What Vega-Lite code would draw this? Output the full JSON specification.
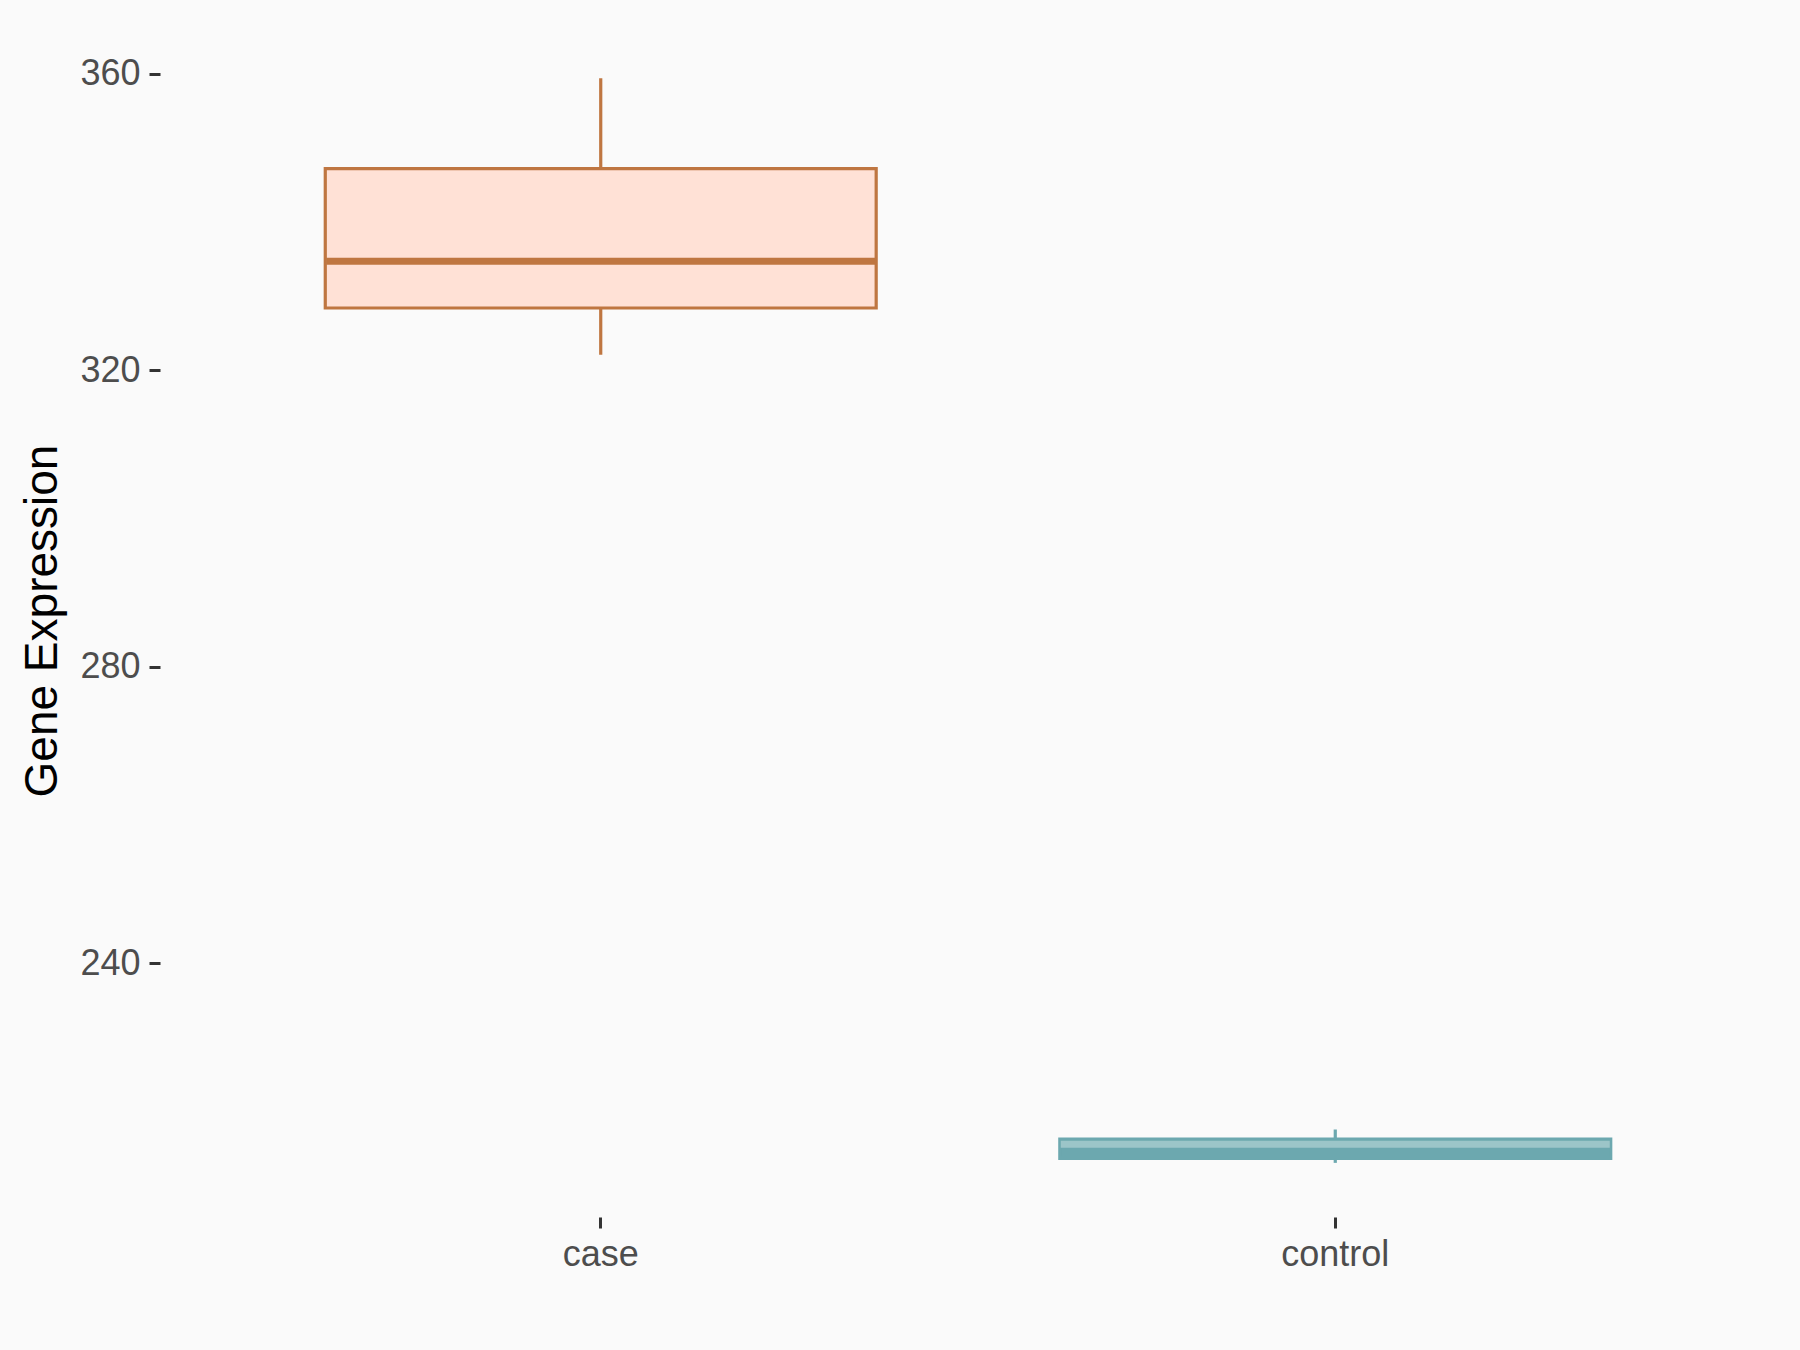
{
  "$schema": "https://vega.github.io/schema/vega-lite/v6.json",
  "width": 1616,
  "height": 1193,
  "autosize": {"type": "none"},
  "padding": {"left": 160, "top": 24, "right": 24, "bottom": 133},
  "background": "#FAFAFA",
  "config": {
    "view": {"stroke": null},
    "font": "Liberation Sans"
  },
  "data": {
    "values": [
      {"group": "case", "lower": 322.1, "q1": 328.4, "median": 334.7, "q3": 347.2, "upper": 359.4},
      {"group": "control", "lower": 213.1, "q1": 213.7, "median": 215.6, "q3": 216.3, "upper": 217.6}
    ]
  },
  "encoding": {
    "x": {
      "field": "group",
      "type": "nominal",
      "scale": {"type": "band", "paddingInner": 0, "paddingOuter": 0.1},
      "axis": {
        "title": null,
        "labelAngle": 0,
        "labelFontSize": 36,
        "labelColor": "#4D4D4D",
        "tickSize": 11,
        "tickWidth": 3,
        "tickColor": "#333333",
        "labelPadding": 9,
        "domain": false,
        "grid": false
      }
    }
  },
  "layer": [
    {
      "mark": {"type": "rule", "strokeWidth": 3.2},
      "encoding": {
        "y": {
          "field": "lower",
          "type": "quantitative",
          "scale": {"domain": [205.8, 366.7], "nice": false, "zero": false},
          "axis": {
            "title": "Gene Expression",
            "titleFontSize": 46,
            "titleFontWeight": "normal",
            "titleColor": "#000000",
            "titlePadding": 13,
            "values": [240, 280, 320, 360],
            "labelFontSize": 36,
            "labelColor": "#4D4D4D",
            "tickSize": 11,
            "tickWidth": 3,
            "tickColor": "#333333",
            "labelPadding": 9,
            "domain": false,
            "grid": false
          }
        },
        "y2": {"field": "upper"},
        "color": {
          "field": "group",
          "type": "nominal",
          "scale": {"domain": ["case", "control"], "range": ["#BF7641", "#6CA8AF"]},
          "legend": null
        }
      }
    },
    {
      "mark": {"type": "bar", "strokeWidth": 3.2, "width": {"band": 0.75}},
      "encoding": {
        "y": {"field": "q1", "type": "quantitative"},
        "y2": {"field": "q3"},
        "fill": {
          "field": "group",
          "type": "nominal",
          "scale": {"domain": ["case", "control"], "range": ["#FFE1D6", "#6CA8AF"]},
          "legend": null
        },
        "stroke": {
          "field": "group",
          "type": "nominal",
          "scale": {"domain": ["case", "control"], "range": ["#BF7641", "#6CA8AF"]},
          "legend": null
        }
      }
    },
    {
      "mark": {"type": "tick", "size": 549, "thickness": 7, "orient": "horizontal", "opacity": 1},
      "encoding": {
        "y": {"field": "median", "type": "quantitative"},
        "color": {
          "field": "group",
          "type": "nominal",
          "scale": {"domain": ["case", "control"], "range": ["#BF7641", "#9CC5C8"]},
          "legend": null
        }
      }
    }
  ],
  "resolve": {"scale": {"color": "independent"}}
}
